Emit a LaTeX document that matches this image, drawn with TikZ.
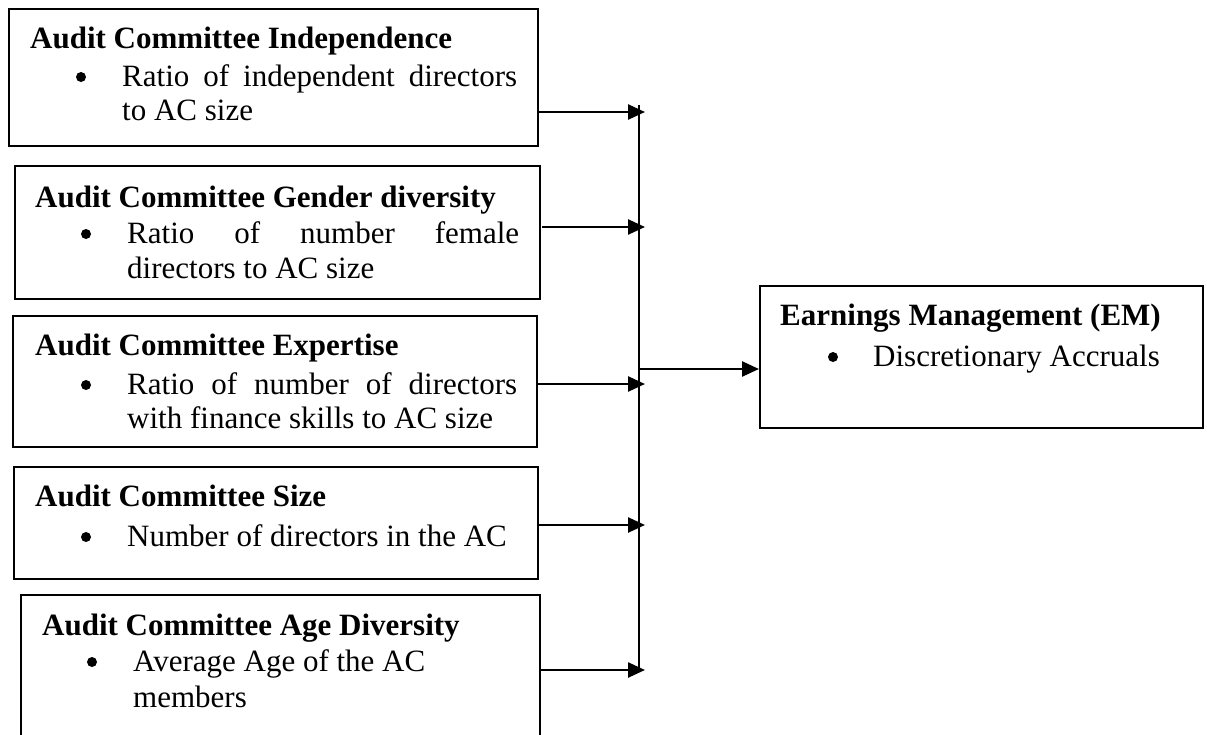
\documentclass[tikz,border=0pt]{standalone}
\usepackage{fontspec}
\setmainfont{Liberation Serif}
\usetikzlibrary{arrows.meta}
\tikzset{
  box/.style={draw=black, line width=2.4pt, anchor=north west, inner sep=0pt},
  ttl/.style={anchor=base west, inner sep=0pt, font=\fontsize{31}{35}\selectfont\bfseries},
  txt/.style={anchor=base west, inner sep=0pt, font=\fontsize{31}{35}\selectfont},
  bul/.style={circle, fill=black, inner sep=0pt, minimum size=10pt},
  arr/.style={line width=2.5pt, -{Triangle[length=17pt,width=15pt]}},
  ln/.style={line width=2.5pt}
}
\begin{document}
\begin{tikzpicture}[x=1pt,y=-1pt]
\clip (0,0) rectangle (1207,734);
% boxes
\node[box, minimum width=529pt, minimum height=137pt] (b1) at (8,8) {};
\node[box, minimum width=525pt, minimum height=133pt] (b2) at (14,165) {};
\node[box, minimum width=524pt, minimum height=131pt] (b3) at (12,315) {};
\node[box, minimum width=524pt, minimum height=112pt] (b4) at (13,466) {};
\node[box, minimum width=519pt, minimum height=160pt] (b5) at (20,594) {};
\node[box, minimum width=443pt, minimum height=142pt] (em) at (759,285) {};
% box 1
\node[ttl] (t1) at (30,48) {Audit Committee Independence};
\node[bul] (u1) at (81,77) {};
\node[txt] (l1a) at (122,86) {\makebox[395pt][s]{Ratio of independent directors}};
\node[txt] (l1b) at (122,120) {to AC size};
% box 2
\node[ttl] (t2) at (35,207) {Audit Committee Gender diversity};
\node[bul] (u2) at (86,234) {};
\node[txt] (l2a) at (127,243) {\makebox[392pt][s]{Ratio of number female}};
\node[txt] (l2b) at (127,278) {directors to AC size};
% box 3
\node[ttl] (t3) at (35,355) {Audit Committee Expertise};
\node[bul] (u3) at (86,385) {};
\node[txt] (l3a) at (127,394) {\makebox[390pt][s]{Ratio of number of directors}};
\node[txt] (l3b) at (127,428) {with finance skills to AC size};
% box 4
\node[ttl] (t4) at (35,506) {Audit Committee Size};
\node[bul] (u4) at (86,537) {};
\node[txt] (l4a) at (127,546) {Number of directors in the AC};
% box 5
\node[ttl] (t5) at (42,635) {Audit Committee Age Diversity};
\node[bul] (u5) at (92,662) {};
\node[txt] (l5a) at (133,671) {Average Age of the AC};
\node[txt] (l5b) at (133,707) {members};
% EM box
\node[ttl] (te) at (780,325) {Earnings Management (EM)};
\node[bul] (ue) at (833,357) {};
\node[txt] (le) at (873,366) {Discretionary Accruals};
% connectors
\coordinate (vtop) at (639,105);
\coordinate (vbot) at (639,671);
\draw[ln] (vtop) -- (vbot);
\coordinate (e1) at (645,112);
\coordinate (e2) at (645,227);
\coordinate (e3) at (645,384);
\coordinate (e4) at (645,525);
\coordinate (e5) at (645,670);
\coordinate (s2) at (542,227);
\draw[arr] (b1.east |- e1) -- (e1);
\draw[arr] (s2) -- (e2);
\draw[arr] (b3.east |- e3) -- (e3);
\draw[arr] (b4.east |- e4) -- (e4);
\draw[arr] (b5.east |- e5) -- (e5);
\coordinate (m) at (640,369);
\draw[arr] (m) -- (em.west |- m);
\end{tikzpicture}
\end{document}
